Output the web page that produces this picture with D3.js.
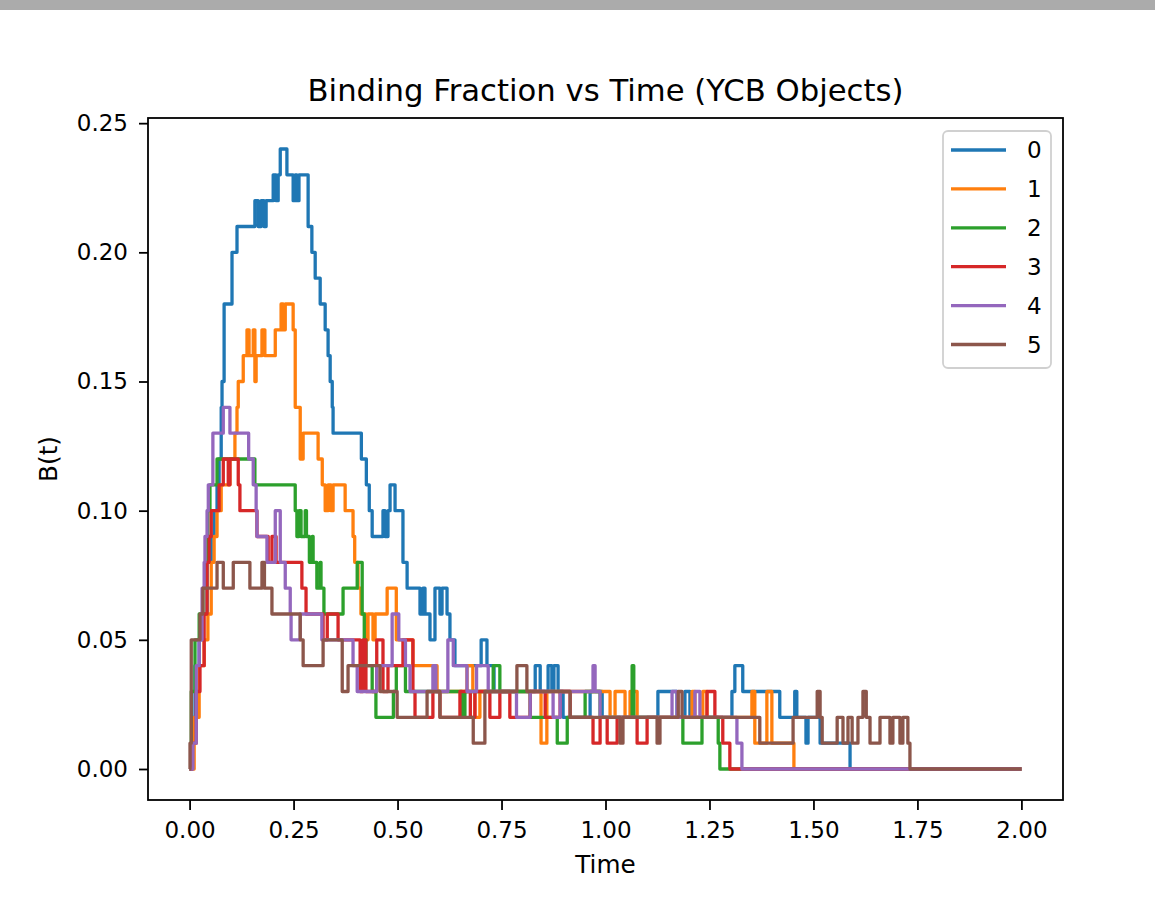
<!DOCTYPE html>
<html>
<head>
<meta charset="utf-8">
<script src="https://cdn.jsdelivr.net/npm/d3@7"></script>
<style>
  body { margin: 0; background: #fff; }
  svg { display: block; font-family: "DejaVu Sans", sans-serif; }
</style>
</head>
<body>
<svg id="chart" width="1155" height="898"></svg>
<script>
// Step series: [time, B(t)] change points
const series0 = [[0,0],[0.006,0.02],[0.013,0.04],[0.023,0.05],[0.032,0.06],[0.042,0.08],[0.052,0.09],[0.059,0.10],[0.066,0.11],[0.071,0.12],[0.076,0.14],[0.078,0.15],[0.083,0.18],[0.102,0.20],[0.114,0.21],[0.157,0.22],[0.165,0.21],[0.172,0.22],[0.179,0.21],[0.184,0.22],[0.201,0.23],[0.208,0.22],[0.213,0.23],[0.218,0.24],[0.234,0.23],[0.249,0.22],[0.254,0.23],[0.258,0.22],[0.263,0.23],[0.285,0.21],[0.294,0.20],[0.302,0.19],[0.314,0.18],[0.326,0.17],[0.333,0.16],[0.338,0.15],[0.343,0.14],[0.345,0.13],[0.413,0.12],[0.425,0.11],[0.432,0.10],[0.439,0.09],[0.465,0.10],[0.470,0.09],[0.477,0.10],[0.482,0.11],[0.494,0.10],[0.513,0.08],[0.523,0.07],[0.554,0.06],[0.561,0.07],[0.566,0.06],[0.578,0.05],[0.590,0.07],[0.602,0.06],[0.607,0.07],[0.619,0.06],[0.626,0.05],[0.638,0.04],[0.701,0.05],[0.715,0.04],[0.732,0.03],[0.831,0.04],[0.843,0.03],[0.862,0.04],[0.871,0.03],[0.876,0.04],[0.886,0.03],[0.898,0.02],[0.963,0.03],[0.992,0.02],[1.126,0.03],[1.172,0.02],[1.191,0.03],[1.203,0.02],[1.304,0.03],[1.311,0.04],[1.330,0.03],[1.419,0.02],[1.455,0.03],[1.460,0.02],[1.482,0.01],[1.487,0.02],[1.516,0.01],[1.588,0],[2.0,0]];
const series1 = [[0,0],[0.011,0.02],[0.023,0.04],[0.035,0.05],[0.044,0.06],[0.052,0.08],[0.059,0.09],[0.066,0.10],[0.076,0.11],[0.097,0.12],[0.109,0.13],[0.114,0.14],[0.117,0.15],[0.129,0.16],[0.138,0.17],[0.143,0.16],[0.153,0.17],[0.157,0.15],[0.160,0.16],[0.174,0.17],[0.181,0.16],[0.206,0.17],[0.220,0.18],[0.225,0.17],[0.230,0.18],[0.249,0.17],[0.254,0.14],[0.266,0.12],[0.273,0.13],[0.309,0.12],[0.319,0.11],[0.326,0.10],[0.333,0.11],[0.340,0.10],[0.345,0.11],[0.374,0.10],[0.393,0.09],[0.397,0.08],[0.405,0.07],[0.412,0.06],[0.424,0.05],[0.429,0.06],[0.441,0.05],[0.446,0.06],[0.475,0.07],[0.497,0.05],[0.537,0.04],[0.595,0.03],[0.667,0.04],[0.681,0.03],[0.686,0.02],[0.698,0.03],[0.845,0.01],[0.859,0.03],[1.011,0.02],[1.023,0.03],[1.047,0.02],[1.059,0.03],[1.076,0.02],[1.208,0.03],[1.215,0.02],[1.234,0.03],[1.244,0.02],[1.352,0.03],[1.359,0.01],[1.388,0.03],[1.400,0.01],[1.453,0],[2.0,0]];
const series2 = [[0,0],[0.004,0.03],[0.013,0.05],[0.023,0.06],[0.032,0.07],[0.040,0.08],[0.044,0.10],[0.049,0.11],[0.066,0.12],[0.157,0.11],[0.254,0.10],[0.258,0.09],[0.263,0.10],[0.268,0.09],[0.278,0.10],[0.281,0.09],[0.288,0.08],[0.295,0.09],[0.297,0.08],[0.306,0.07],[0.314,0.08],[0.316,0.07],[0.323,0.06],[0.369,0.07],[0.403,0.08],[0.415,0.06],[0.420,0.05],[0.424,0.04],[0.439,0.03],[0.448,0.02],[0.490,0.03],[0.497,0.04],[0.519,0.03],[0.655,0.02],[0.662,0.03],[0.730,0.04],[0.746,0.03],[0.819,0.02],[0.884,0.01],[0.908,0.02],[0.951,0.03],[0.987,0.02],[1.064,0.04],[1.068,0.02],[1.186,0.01],[1.232,0.02],[1.271,0.01],[1.275,0],[2.0,0]];
const series3 = [[0,0],[0.006,0.01],[0.016,0.03],[0.025,0.04],[0.035,0.06],[0.042,0.08],[0.047,0.09],[0.052,0.10],[0.071,0.11],[0.081,0.12],[0.093,0.11],[0.097,0.12],[0.117,0.11],[0.121,0.10],[0.162,0.09],[0.189,0.08],[0.198,0.09],[0.208,0.08],[0.270,0.07],[0.280,0.06],[0.321,0.05],[0.331,0.06],[0.357,0.05],[0.410,0.03],[0.417,0.05],[0.424,0.03],[0.450,0.05],[0.465,0.03],[0.477,0.04],[0.513,0.05],[0.537,0.03],[0.542,0.02],[0.585,0.03],[0.602,0.02],[0.650,0.03],[0.675,0.02],[0.686,0.03],[0.722,0.02],[0.746,0.03],[0.770,0.02],[0.819,0.03],[0.855,0.02],[0.891,0.03],[0.915,0.02],[0.970,0.01],[0.987,0.02],[1.004,0.01],[1.028,0.02],[1.076,0.01],[1.100,0.02],[1.244,0.03],[1.263,0.02],[1.282,0.01],[1.299,0],[2.0,0]];
const series4 = [[0,0],[0.008,0.01],[0.016,0.04],[0.023,0.05],[0.030,0.07],[0.035,0.08],[0.037,0.09],[0.042,0.10],[0.045,0.11],[0.056,0.13],[0.081,0.14],[0.097,0.13],[0.142,0.12],[0.153,0.11],[0.160,0.10],[0.162,0.09],[0.186,0.08],[0.206,0.10],[0.218,0.08],[0.230,0.07],[0.242,0.06],[0.244,0.05],[0.266,0.06],[0.318,0.05],[0.393,0.04],[0.403,0.03],[0.450,0.04],[0.487,0.06],[0.503,0.05],[0.519,0.04],[0.530,0.03],[0.585,0.04],[0.592,0.03],[0.621,0.05],[0.634,0.04],[0.667,0.03],[0.690,0.04],[0.718,0.03],[0.786,0.02],[0.819,0.03],[0.874,0.02],[0.891,0.03],[0.970,0.04],[0.975,0.03],[0.987,0.02],[1.160,0.03],[1.172,0.02],[1.215,0.03],[1.227,0.02],[1.316,0.01],[1.328,0],[2.0,0]];
const series5 = [[0,0],[0.001,0.01],[0.004,0.05],[0.025,0.06],[0.032,0.07],[0.066,0.08],[0.081,0.07],[0.105,0.08],[0.145,0.07],[0.174,0.08],[0.180,0.07],[0.198,0.06],[0.266,0.05],[0.273,0.04],[0.321,0.05],[0.367,0.03],[0.381,0.04],[0.458,0.03],[0.499,0.02],[0.571,0.03],[0.602,0.02],[0.682,0.01],[0.710,0.03],[0.787,0.04],[0.811,0.03],[0.915,0.02],[1.035,0.01],[1.042,0.02],[1.124,0.01],[1.131,0.02],[1.175,0.03],[1.184,0.02],[1.371,0.01],[1.451,0.02],[1.509,0.03],[1.516,0.02],[1.521,0.01],[1.557,0.02],[1.571,0.01],[1.583,0.02],[1.593,0.01],[1.607,0.02],[1.619,0.03],[1.627,0.02],[1.636,0.01],[1.660,0.02],[1.684,0.01],[1.691,0.02],[1.708,0.01],[1.715,0.02],[1.727,0.01],[1.732,0],[2.0,0]];

const labels = ["0", "1", "2", "3", "4", "5"];
const colors = ["#1f77b4", "#ff7f0e", "#2ca02c", "#d62728", "#9467bd", "#8c564b"];
const allSeries = [series0, series1, series2, series3, series4, series5];
const xTicks = [0, 0.25, 0.5, 0.75, 1.0, 1.25, 1.5, 1.75, 2.0];
const yTicks = [0, 0.05, 0.10, 0.15, 0.20, 0.25];

const svg = d3.select("#chart");
const margin = { left: 148, right: 1063, top: 118, bottom: 800 };

// grey strip at the top of the screenshot
svg.append("rect").attr("x", 0).attr("y", 0).attr("width", 1155).attr("height", 10).attr("fill", "#ababab");

const x = d3.scaleLinear().domain([-0.1, 2.1]).range([margin.left, margin.right]);
const y = d3.scaleLinear().domain([-0.012, 0.252]).range([margin.bottom, margin.top]);

// clip to the axes box
svg.append("defs").append("clipPath").attr("id", "clip")
    .append("rect")
    .attr("x", margin.left).attr("y", margin.top)
    .attr("width", margin.right - margin.left).attr("height", margin.bottom - margin.top);

const line = d3.line()
    .x(d => x(d[0]))
    .y(d => y(d[1]))
    .curve(d3.curveStepAfter);

const plot = svg.append("g").attr("clip-path", "url(#clip)");
allSeries.forEach((s, i) => {
    plot.append("path")
        .datum(s)
        .attr("fill", "none")
        .attr("stroke", colors[i])
        .attr("stroke-width", 3.3)
        .attr("stroke-linejoin", "round")
        .attr("d", line);
});

// axes
const xAxis = svg.append("g")
    .attr("transform", `translate(0,${margin.bottom})`)
    .call(d3.axisBottom(x).tickValues(xTicks).tickFormat(d3.format(".2f")).tickSize(10).tickPadding(12));
const yAxis = svg.append("g")
    .attr("transform", `translate(${margin.left},0)`)
    .call(d3.axisLeft(y).tickValues(yTicks).tickFormat(d3.format(".2f")).tickSize(9).tickPadding(11));

[xAxis, yAxis].forEach(a => {
    a.select(".domain").remove();
    a.selectAll(".tick line").attr("stroke", "#000").attr("stroke-width", 1.8);
    a.selectAll(".tick text")
        .attr("fill", "#000")
        .style("font-size", "23px")
        .style("font-family", "DejaVu Sans, sans-serif");
});

// frame
svg.append("rect")
    .attr("x", margin.left).attr("y", margin.top)
    .attr("width", margin.right - margin.left).attr("height", margin.bottom - margin.top)
    .attr("fill", "none").attr("stroke", "#000").attr("stroke-width", 1.8);

// title and axis labels
svg.append("text")
    .attr("x", (margin.left + margin.right) / 2).attr("y", 101)
    .attr("text-anchor", "middle")
    .style("font-size", "30.7px")
    .text("Binding Fraction vs Time (YCB Objects)");

svg.append("text")
    .attr("x", (margin.left + margin.right) / 2).attr("y", 873)
    .attr("text-anchor", "middle")
    .style("font-size", "24.7px")
    .text("Time");

svg.append("text")
    .attr("transform", `translate(57,${(margin.top + margin.bottom) / 2}) rotate(-90)`)
    .attr("text-anchor", "middle")
    .style("font-size", "24.7px")
    .text("B(t)");

// legend
const legend = svg.append("g");
legend.append("rect")
    .attr("x", 943).attr("y", 131).attr("width", 108).attr("height", 237).attr("rx", 5)
    .attr("fill", "#fff").attr("fill-opacity", 0.8)
    .attr("stroke", "#d0d0d0").attr("stroke-width", 1.8);

labels.forEach((lab, i) => {
    const ly = 150 + i * 38.9;
    legend.append("line")
        .attr("x1", 951).attr("x2", 1006).attr("y1", ly).attr("y2", ly)
        .attr("stroke", colors[i]).attr("stroke-width", 3.3);
    legend.append("text")
        .attr("x", 1027).attr("y", ly).attr("dy", "0.36em")
        .style("font-size", "23px")
        .text(lab);
});
</script>
</body>
</html>
